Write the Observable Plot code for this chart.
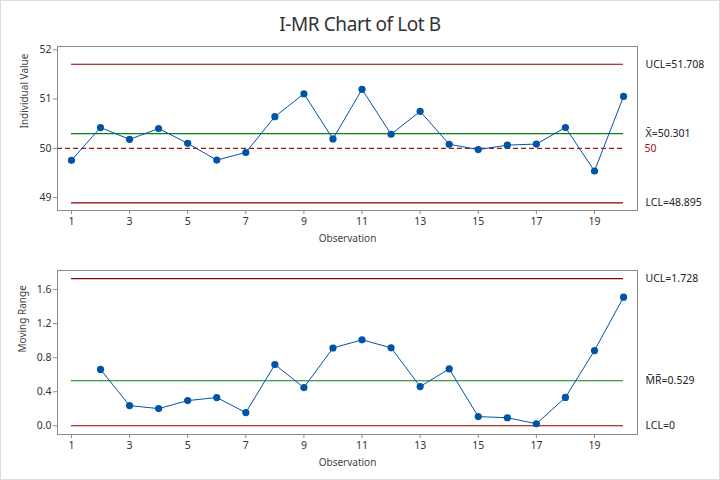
<!DOCTYPE html>
<html><head><meta charset="utf-8">
<script src="https://cdn.jsdelivr.net/npm/d3@7"></script>
<script src="https://cdn.jsdelivr.net/npm/@observablehq/plot@0.6"></script>
<style>
body{margin:0;background:#fff;font-family:"Noto Sans",sans-serif;}
#wrap{position:relative;width:720px;height:480px;overflow:hidden;background:#fff;}
#title{position:absolute;left:0;top:14px;width:720px;line-height:20px;text-align:center;font-size:19px;letter-spacing:-0.4px;color:#333;}
#top{position:absolute;left:0;top:40px;}
#bot{position:absolute;left:0;top:250px;}
#border{position:absolute;left:0;top:0;width:720px;height:480px;box-sizing:border-box;border:1px solid #dcdcdc;pointer-events:none;}
</style></head>
<body>
<div id="wrap">
  <div id="title">I-MR Chart of Lot B</div>
  <div id="top"></div>
  <div id="bot"></div>
  <div id="border"></div>
</div>
<script>
// ---- data ----
const observations = [1,2,3,4,5,6,7,8,9,10,11,12,13,14,15,16,17,18,19,20];
const individualValues = [49.757,50.423,50.183,50.403,50.103,49.762,49.917,50.643,51.108,50.191,51.199,50.287,50.751,50.084,49.975,50.066,50.088,50.424,49.541,51.054];
const mrObservations = [2,3,4,5,6,7,8,9,10,11,12,13,14,15,16,17,18,19,20];
const movingRanges = [0.662,0.238,0.202,0.296,0.332,0.155,0.719,0.449,0.914,1.010,0.916,0.461,0.668,0.108,0.095,0.024,0.333,0.884,1.511];
const xTicks = [1,3,5,7,9,11,13,15,17,19];
const iTicks = [49,50,51,52];
const mrTicks = [0,0.4,0.8,1.2,1.6];
const iUCL = 51.708, iMean = 50.301, iLCL = 48.895, iTarget = 50;
const mrUCL = 1.728, mrMean = 0.529, mrLCL = 0;

// ---- styles ----
const blue = "#0054a6", red = "#8b0000", green = "#0a8012", gray = "#8a8a8a", targetRed = "#a01818";
const font = "Noto Sans";
const style = {fontFamily: font, fontSize: "10.5px", color: "#333", background: "transparent", overflow: "visible"};
const xDomain = [0.52, 20.48];

const iData = observations.map((o, i) => ({obs: o, v: individualValues[i]}));
const mrData = mrObservations.map((o, i) => ({obs: o, v: movingRanges[i]}));

const topChart = Plot.plot({
  width: 720, height: 210,
  marginTop: 6, marginBottom: 40, marginLeft: 57, marginRight: 83,
  style,
  x: {domain: xDomain},
  y: {domain: [48.74, 52.067]},
  marks: [
    Plot.ruleY([{v: iUCL}, {v: iLCL}], {y: "v", x1: () => 1, x2: () => 20, stroke: red, strokeWidth: 1.1}),
    Plot.ruleY([{v: iMean}], {y: "v", x1: () => 1, x2: () => 20, stroke: green, strokeWidth: 1.2}),
    Plot.ruleY([{v: iTarget}], {y: "v", x1: () => xDomain[0], x2: () => 20, stroke: targetRed, strokeWidth: 1.1, strokeDasharray: "5,3"}),
    Plot.line(iData, {x: "obs", y: "v", stroke: blue, strokeWidth: 1}),
    Plot.dot(iData, {x: "obs", y: "v", r: 3.6, fill: blue, stroke: null}),
    Plot.frame({stroke: gray}),
    Plot.axisX({ticks: xTicks, tickSize: 4, tickPadding: 3, label: null, stroke: gray, fill: "#333"}),
    Plot.axisY({ticks: iTicks, tickSize: 4, tickPadding: 2, label: null, stroke: gray, fill: "#333", tickFormat: d => String(d)}),
    Plot.text(["Observation"], {frameAnchor: "bottom", dy: 31, fill: "#444", fontSize: 10}),
    Plot.text(["Individual Value"], {frameAnchor: "left", dx: -33, rotate: -90, fill: "#444", fontSize: 10}),
    Plot.text([{v: iUCL, t: "UCL=" + iUCL}, {v: iLCL, t: "LCL=" + iLCL}, {v: iMean, t: "X\u0304=" + iMean}],
      {x: () => 20, y: "v", text: "t", dx: 22, textAnchor: "start", fill: "#222"}),
    Plot.text([{v: iTarget, t: String(iTarget)}], {x: () => 20, y: "v", text: "t", dx: 21, textAnchor: "start", fill: targetRed})
  ]
});
document.getElementById("top").appendChild(topChart);

const botChart = Plot.plot({
  width: 720, height: 230,
  marginTop: 20, marginBottom: 46, marginLeft: 57, marginRight: 83,
  style,
  x: {domain: xDomain},
  y: {domain: [-0.102, 1.824]},
  marks: [
    Plot.ruleY([{v: mrUCL}, {v: mrLCL}], {y: "v", x1: () => 1, x2: () => 20, stroke: red, strokeWidth: 1.1}),
    Plot.ruleY([{v: mrMean}], {y: "v", x1: () => 1, x2: () => 20, stroke: green, strokeWidth: 1.2}),
    Plot.line(mrData, {x: "obs", y: "v", stroke: blue, strokeWidth: 1}),
    Plot.dot(mrData, {x: "obs", y: "v", r: 3.6, fill: blue, stroke: null}),
    Plot.frame({stroke: gray}),
    Plot.axisX({ticks: xTicks, tickSize: 4, tickPadding: 3, label: null, stroke: gray, fill: "#333"}),
    Plot.axisY({ticks: mrTicks, tickSize: 4, tickPadding: 2, label: null, stroke: gray, fill: "#333", tickFormat: d => d.toFixed(1)}),
    Plot.text(["Observation"], {frameAnchor: "bottom", dy: 31, fill: "#444", fontSize: 10}),
    Plot.text(["Moving Range"], {frameAnchor: "left", dx: -35, rotate: -90, fill: "#444", fontSize: 10}),
    Plot.text([{v: mrUCL, t: "UCL=" + mrUCL}, {v: mrLCL, t: "LCL=" + mrLCL}, {v: mrMean, t: "M\u0305R\u0305=" + mrMean}],
      {x: () => 20, y: "v", text: "t", dx: 22, textAnchor: "start", fill: "#222"})
  ]
});
document.getElementById("bot").appendChild(botChart);
</script>
</body></html>
